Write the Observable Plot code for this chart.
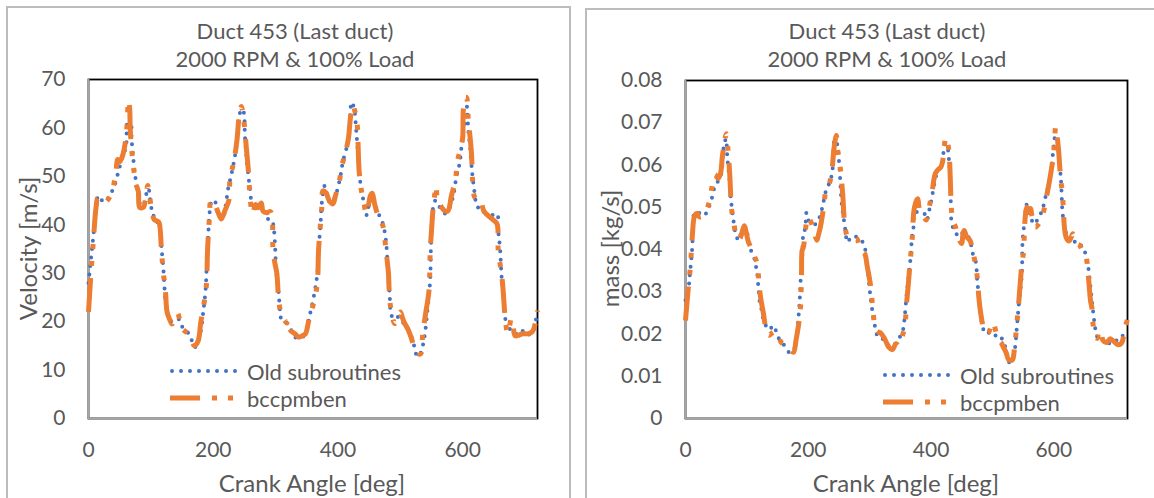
<!DOCTYPE html>
<html>
<head>
<meta charset="utf-8">
<script src="https://cdn.jsdelivr.net/npm/d3@7"></script>
<script src="https://cdn.jsdelivr.net/npm/@observablehq/plot@0.6"></script>
<style>
  html, body { margin: 0; padding: 0; background: #fff; }
  #page { position: relative; width: 1154px; height: 498px; overflow: hidden; font-family: Lato, sans-serif; color: #595959; }
  .panel { position: absolute; box-sizing: border-box; border: 2px solid #bcbcbc; background: #fff; }
  .chart { position: absolute; top: 0; }
  .txt { position: absolute; white-space: nowrap; text-align: center; }
  .legend-row { position: absolute; display: flex; align-items: center; height: 28px; white-space: nowrap; font-size: 22px; }
  .legend-row svg { display: block; margin-right: 4px; }
</style>
</head>
<body>
<div id="page"></div>
<script>
// Crank-angle axis and tick values
const angleTicks = [0, 200, 400, 600];
const velocityTicks = [0, 10, 20, 30, 40, 50, 60, 70];
const massTicks = [0, 0.01, 0.02, 0.03, 0.04, 0.05, 0.06, 0.07, 0.08];

const seriesNames = ["Old subroutines", "bccpmben"];
const seriesColors = ["#4472C4", "#ED7D31"];

const titleLines = ["Duct 453 (Last duct)", "2000 RPM & 100% Load"];

// Velocity [m/s] vs crank angle [deg], old subroutines
const velocityOld = [
  [0,28],[4,33],[8,38],[13,44.6],[16,46],[22,45],[28,44.8],[33,46],[40,47.5],[48,51],[55,54.3],[60,56],
  [62,61],[65,62],[68,61.5],[69,58],[71,54.8],[75,50],[80,46],[84,44],[88,44],[92,46],[96,47.5],[100,44],
  [104,42],[108,40.5],[113,40.5],[115,38.8],[117,35.4],[120,31],[122,26.8],[124,23.7],[131,20.2],[138,20],
  [145,20.5],[152,18.5],[159,17.8],[165,16.3],[170,14.7],[175,15.5],[180,18],[184,22],[188,27],[190,33],
  [192,38],[195,43.4],[198,45],[202,45],[207,42.7],[212,41.5],[215,41],[220,44],[224,47.5],[230,50.9],
  [237,56],[242,62.6],[245,63.8],[248,63.6],[251,58],[254,53],[257,49.4],[259,47.4],[261,45],[263,44.3],
  [266,43],[272,43.5],[280,43],[286,41.3],[294,41],[297,39.3],[299,36],[300,33],[302,28.9],[305,25.8],
  [307,22.3],[309,20.6],[314,20],[320,19.5],[326,18],[334,16.5],[340,16.7],[347,17.2],[352,19.6],[356,22],
  [361,25],[365,28],[367,30],[369,34.8],[372,40],[374.5,45],[379,48.1],[385,45],[390,44.5],[396,46],
  [402,48.8],[405,50.8],[408,53.1],[414,56],[418,59],[422,65.3],[426,64],[429,60],[432,55],[436,48.6],
  [438,47],[441,45],[444,43.7],[446,42],[452,45],[456,45],[462,43],[466,42],[472,40.2],[477,36.7],
  [481,28.5],[483,25.5],[485,21.7],[490,20.5],[498,21],[503,20],[509,19.2],[515,17.8],[520,16.1],[524,14],
  [527,12.8],[532,13.4],[536,15],[540,18],[543,21.7],[546,25.5],[548,29],[549,34.7],[550,38.8],[551,42.3],
  [554,44.2],[556,45],[559,44],[565,43.5],[572,42.3],[578,43.3],[585,46],[590,50],[595,52.6],[598,56],
  [600,58.8],[604,61.5],[607,64.4],[609,59.5],[612,56],[615,51],[618,47.7],[622,44.4],[628,43],[637,42.6],
  [646,42],[655,42.3],[657,38.8],[660,35],[662,30],[664,27.1],[666,25],[667,22],[669,20],[671,17.9],
  [676,18.5],[682,18],[690,17.2],[698,18.2],[705,17.3],[711,17.8],[715,19],[718,20.6],[720,21]
];

// Velocity [m/s] vs crank angle [deg], bccpmben
const velocityNew = [
  [0,22],[4,30],[8,37],[12,43.5],[15,45.5],[20,45],[25,44.5],[30,45],[35,46],[40,48],[44,51],[47,53.5],
  [50,53],[54,54],[57,55.5],[60,58],[62,61],[64,65.7],[66,64],[67,59.5],[69,56],[72,52],[76,48.5],[80,46.8],
  [82,43.6],[88,43.6],[92,46],[95,48.1],[98,46],[102,42.3],[106,41],[110,40.8],[113,40.5],[117,34.7],
  [120,30],[123,27.1],[126,22],[130,20.5],[134,19.5],[139,21],[143,21.7],[146,20.5],[150,18.6],[155,18],
  [160,17.5],[165,16],[170,15],[174,15.5],[177,16.6],[180,19.8],[185,23.5],[189,27.4],[191,35],[194,41.6],
  [196,44.8],[199,45],[203,44.2],[208,42.5],[213,41.2],[219,43],[225,45],[227,49.6],[233,53],[238,57.4],
  [242,62.9],[245,64.4],[247,63.5],[250,60.5],[253,56],[256,51.8],[259,46],[263,42.2],[268,44.2],[272,43.5],
  [277,44.5],[280,42.8],[286,42.5],[292,42.7],[296,34.7],[299,32],[302,30],[305,24.5],[309,21.5],[313,20.6],
  [316,20],[318,19.7],[320,20.4],[324,18.2],[331,17.5],[337,16.8],[343,17.1],[348,17.5],[352,19.5],[356,22],
  [358,22.5],[363,25],[367,27.9],[369,35],[374,43.4],[376,47],[381,46.6],[386,45],[392,44.3],[396,46],
  [402,48.8],[406,52],[411,54.4],[414,56],[417,58],[420,62],[424,64.7],[427,63.5],[430,62],[434,51],
  [437,47.5],[440,45.6],[446,42.3],[452,46],[455,46.5],[459,44.2],[465,41.6],[472,39.8],[477,34.7],[481,30],
  [482,26.8],[484,23.4],[488,20.5],[491,19.6],[496,21],[500,22],[503,21],[506,19.9],[512,18.5],[518,16.5],
  [524,14],[530,13.3],[533,13.4],[536,17.6],[541,22],[546,26.4],[548,34.7],[550,38.8],[553,44],[555,46],
  [557,48.1],[559,45.5],[561,44.2],[564,44],[570,43],[576,42.8],[582,46],[588,49],[592,53.3],[597,56],
  [600,58],[601,63.6],[604,66.3],[606,66.3],[609,61.8],[614,55],[616,49.1],[619,45.8],[625,45],[628,45.2],
  [634,42.8],[640,42],[649,41],[655,40.2],[657,34.7],[661,31],[664,27.9],[666,24.4],[668,21],[672,17.6],
  [675,19],[678,20.6],[681,19],[684,17.1],[690,17.2],[696,17.5],[705,17.5],[712,18],[717,20],[720,22.3]
];

// Mass flow [kg/s] vs crank angle [deg], old subroutines
const massOld = [
  [0,0.028],[5,0.031],[7,0.034],[9,0.037],[11,0.0405],[15,0.0488],[20,0.0488],[24,0.0485],[30,0.048],
  [35,0.049],[38,0.050],[42,0.0516],[48,0.055],[54,0.0564],[59,0.0583],[60,0.0603],[62,0.064],[66,0.0662],
  [68,0.062],[70,0.059],[72,0.056],[73,0.0532],[75,0.0505],[78,0.047],[82,0.0435],[87,0.0421],[90,0.0437],
  [94,0.045],[99,0.045],[102,0.042],[106,0.040],[112,0.038],[115,0.0358],[117,0.034],[119,0.0305],
  [121,0.0275],[123.5,0.026],[128,0.023],[136,0.021],[143.5,0.022],[148,0.0205],[153.7,0.0185],[160,0.0175],
  [168.7,0.0157],[175,0.0158],[180,0.0185],[184,0.024],[186,0.028],[187,0.031],[188,0.034],[190,0.038],
  [192,0.0436],[195,0.045],[197,0.0487],[200,0.047],[205,0.046],[212,0.046],[218,0.0475],[223,0.050],
  [229,0.054],[235,0.0559],[239,0.0583],[243,0.066],[247,0.065],[250,0.061],[254,0.0516],[256,0.049],
  [258,0.047],[260,0.045],[264,0.0417],[270,0.043],[278,0.043],[285,0.0425],[292,0.0405],[294,0.038],
  [296,0.036],[298,0.0334],[302,0.028],[307,0.0232],[313,0.0196],[318,0.0195],[325,0.018],[332,0.0172],
  [337,0.017],[343,0.018],[348,0.019],[354,0.0208],[357,0.024],[360,0.029],[363,0.033],[367,0.0386],
  [369,0.043],[371,0.0445],[374,0.0488],[379,0.0488],[384,0.0485],[389,0.0485],[393,0.047],[397.5,0.0496],
  [401,0.052],[406,0.056],[412,0.059],[417,0.0595],[421,0.064],[423,0.065],[426,0.0646],[429,0.0615],
  [431,0.0574],[432,0.0525],[434,0.046],[440,0.044],[446,0.043],[452,0.044],[456,0.0437],[459,0.0434],
  [463.7,0.042],[468,0.039],[473,0.037],[475,0.033],[477.5,0.0295],[481.7,0.0236],[484,0.0216],[490,0.020],
  [497,0.0205],[503,0.020],[510.7,0.0186],[516,0.0189],[521,0.0169],[524,0.0152],[527,0.0133],[532,0.0141],
  [536,0.016],[540,0.022],[543,0.027],[546,0.031],[548,0.0345],[549,0.0417],[551,0.045],[553,0.047],
  [555,0.0508],[558,0.049],[562,0.0477],[568,0.046],[575,0.0476],[581,0.0492],[585,0.0516],[590,0.0545],
  [595,0.058],[599,0.0634],[601,0.0657],[602,0.067],[604,0.067],[608,0.063],[611,0.0575],[612,0.0556],
  [613,0.052],[614,0.049],[618,0.045],[625,0.0421],[631,0.0426],[637,0.041],[643,0.041],[649,0.0404],
  [652,0.038],[656,0.0358],[659,0.032],[662,0.0279],[665,0.024],[667,0.0217],[672,0.019],[680,0.0185],
  [686,0.0173],[695,0.0185],[701,0.0185],[706,0.0185],[710,0.0193],[713,0.0197],[720,0.020]
];

// Mass flow [kg/s] vs crank angle [deg], bccpmben
const massNew = [
  [0,0.0232],[4,0.030],[8,0.036],[11,0.043],[15,0.048],[19,0.0485],[23,0.0477],[27,0.0478],[31,0.0485],
  [36,0.050],[40,0.052],[43,0.0547],[48,0.0577],[53,0.0568],[57,0.058],[60,0.062],[62,0.064],[64,0.066],
  [66.5,0.0674],[69,0.064],[72,0.058],[75,0.0497],[79,0.046],[84,0.0426],[88,0.0425],[93,0.0445],
  [96,0.0456],[99,0.044],[102,0.042],[108,0.040],[112,0.0385],[117,0.0366],[119,0.0335],[122,0.029],
  [127,0.0248],[130,0.022],[133,0.0204],[136,0.0197],[139,0.020],[144,0.0205],[149,0.0204],[156,0.018],
  [162.5,0.0174],[170,0.0162],[176,0.0157],[180,0.0185],[184,0.022],[187,0.0256],[189,0.034],[190,0.0398],
  [192,0.0405],[196,0.0453],[199,0.0477],[205,0.0463],[210,0.0437],[214,0.0422],[217,0.0437],[220,0.0455],
  [225,0.050],[229,0.0541],[234,0.0555],[238,0.058],[242,0.064],[245.7,0.067],[248,0.0634],[252,0.0595],
  [256,0.0532],[260,0.0453],[265,0.0428],[272,0.0426],[279,0.0426],[282,0.0415],[286,0.0398],[292,0.039],
  [296,0.036],[301,0.0319],[306,0.0248],[309,0.0213],[314,0.0205],[318,0.0202],[324,0.019],[331,0.0169],
  [337,0.0163],[343,0.0177],[348,0.0172],[352,0.019],[357,0.0216],[360,0.027],[363,0.0318],[366,0.0372],
  [369,0.042],[373,0.050],[378,0.052],[382,0.0488],[387,0.048],[392,0.047],[397,0.050],[402,0.054],
  [407,0.058],[412,0.059],[416,0.0595],[419,0.061],[422,0.065],[424.5,0.0666],[429,0.0634],[431,0.058],
  [433,0.050],[435,0.047],[440,0.0453],[445,0.0426],[450,0.0414],[452,0.0437],[454,0.0445],[458,0.043],
  [464,0.042],[467,0.0398],[470,0.0382],[474,0.035],[479,0.027],[483,0.023],[487,0.0204],[493,0.0203],
  [497,0.0215],[500,0.0228],[503,0.022],[506,0.0203],[510,0.0185],[514,0.018],[518,0.0168],[522,0.0157],
  [526,0.014],[530,0.0137],[533,0.014],[536,0.0169],[542,0.026],[548,0.0367],[551,0.0398],[552,0.0445],
  [554,0.0485],[556,0.050],[558,0.0495],[560,0.0488],[562,0.0497],[565,0.0475],[570,0.0453],[575,0.046],
  [580,0.0475],[585,0.050],[589,0.0532],[591,0.0547],[593,0.0563],[599,0.0619],[601,0.0654],[603,0.069],
  [606,0.066],[608,0.063],[611,0.057],[614,0.0532],[620,0.0429],[625,0.042],[628,0.0428],[631,0.0437],
  [636,0.0415],[642,0.041],[646,0.040],[652,0.0386],[656,0.034],[660,0.0276],[662,0.0262],[664,0.0222],
  [668,0.0192],[671,0.019],[673,0.0205],[677,0.0208],[680,0.0185],[686,0.018],[692,0.0189],[698,0.0182],
  [704,0.0175],[710,0.0178],[716,0.0215],[720,0.0235]
];

const page = document.getElementById("page");
const rows = pairs => pairs.map(([angle, value]) => ({angle, value}));

// Line styles: round dots for the old model, long-dash-dot-dot for bccpmben
const oldStyle = {stroke: seriesColors[0], strokeWidth: 4, strokeDasharray: "0 8.5", strokeLinecap: "round"};
const newStyle = {stroke: seriesColors[1], strokeWidth: 5, strokeDasharray: "34 12 5 12 5 12", strokeLinecap: "butt"};

function addText(text, cx, cy, size, extra = "") {
  const d = document.createElement("div");
  d.className = "txt";
  d.textContent = text;
  d.style.cssText += `left:${cx - 250}px;width:500px;top:${cy - size * 0.6}px;height:${size * 1.2}px;line-height:${size * 1.2}px;font-size:${size}px;${extra}`;
  page.appendChild(d);
  return d;
}

function addLegend(x, y1, y2) {
  const samples = [
    `<line x1="2" y1="8" x2="73" y2="8" stroke="${seriesColors[0]}" stroke-width="4" stroke-dasharray="0 9" stroke-linecap="round"/>`,
    `<line x1="0" y1="8" x2="73" y2="8" stroke="${seriesColors[1]}" stroke-width="5" stroke-dasharray="30 12 5 11 5 100"/>`
  ];
  [y1, y2].forEach((y, i) => {
    const r = document.createElement("div");
    r.className = "legend-row";
    r.style.left = x + "px";
    r.style.top = (y - 14) + "px";
    r.innerHTML = `<svg width="73" height="16">${samples[i]}</svg><span>${seriesNames[i]}</span>`;
    page.appendChild(r);
  });
}

function panelChart({oldPairs, newPairs, yDomain, yTicks, yFormat, left, width, margins}) {
  const svg = Plot.plot({
    width,
    height: 498,
    ...margins,
    style: {fontFamily: "Lato, sans-serif", fontSize: "21px", color: "#595959", background: "transparent", overflow: "visible"},
    x: {domain: [0, 720], ticks: angleTicks, tickSize: 0, tickPadding: 24, label: null},
    y: {domain: yDomain, ticks: yTicks, tickSize: 0, tickPadding: 23, label: null, tickFormat: yFormat},
    marks: [
      Plot.frame({stroke: "#000", strokeWidth: 1.8}),
      Plot.ruleX([0], {stroke: "#a6a6a6", strokeWidth: 1.8}),
      Plot.ruleY([0], {stroke: "#a6a6a6", strokeWidth: 1.8}),
      Plot.line(rows(oldPairs), {x: "angle", y: "value", curve: "catmull-rom", ...oldStyle}),
      Plot.line(rows(newPairs), {x: "angle", y: "value", curve: "catmull-rom", ...newStyle})
    ]
  });
  svg.classList.add("chart");
  svg.style.left = left + "px";
  page.appendChild(svg);
}

// Outer chart-area borders
const p1 = document.createElement("div");
p1.className = "panel";
p1.style.cssText += "left:6px;top:6px;width:565px;height:600px;";
page.appendChild(p1);
const p2 = document.createElement("div");
p2.className = "panel";
p2.style.cssText += "left:585px;top:8px;width:600px;height:600px;";
page.appendChild(p2);

// Velocity panel: plot frame spans x 88..537, y 79..418
panelChart({
  oldPairs: velocityOld, newPairs: velocityNew,
  yDomain: [0, 70], yTicks: velocityTicks, yFormat: d => String(d),
  left: 0, width: 570,
  margins: {marginLeft: 88, marginRight: 33, marginTop: 79, marginBottom: 80}
});
// Mass panel: plot frame spans x 685..1127, y 80..418
panelChart({
  oldPairs: massOld, newPairs: massNew,
  yDomain: [0, 0.08], yTicks: massTicks, yFormat: d => d === 0 ? "0" : d.toFixed(2),
  left: 586, width: 568,
  margins: {marginLeft: 99, marginRight: 27, marginTop: 80, marginBottom: 80}
});

// Titles
addText(titleLines[0], 295, 31.5, 22);
addText(titleLines[1], 295, 59, 22);
addText(titleLines[0], 887, 31.5, 22);
addText(titleLines[1], 887, 59, 22);

// Axis titles
addText("Crank Angle [deg]", 312, 483, 24);
addText("Crank Angle [deg]", 906, 483, 24);
addText("Velocity [m/s]", 28, 248, 24, "transform:rotate(-90deg);");
addText("mass [kg/s]", 610, 248, 24, "transform:rotate(-90deg);");

// Legends
addLegend(170, 371, 398);
addLegend(883, 375, 402);
</script>
</body>
</html>
